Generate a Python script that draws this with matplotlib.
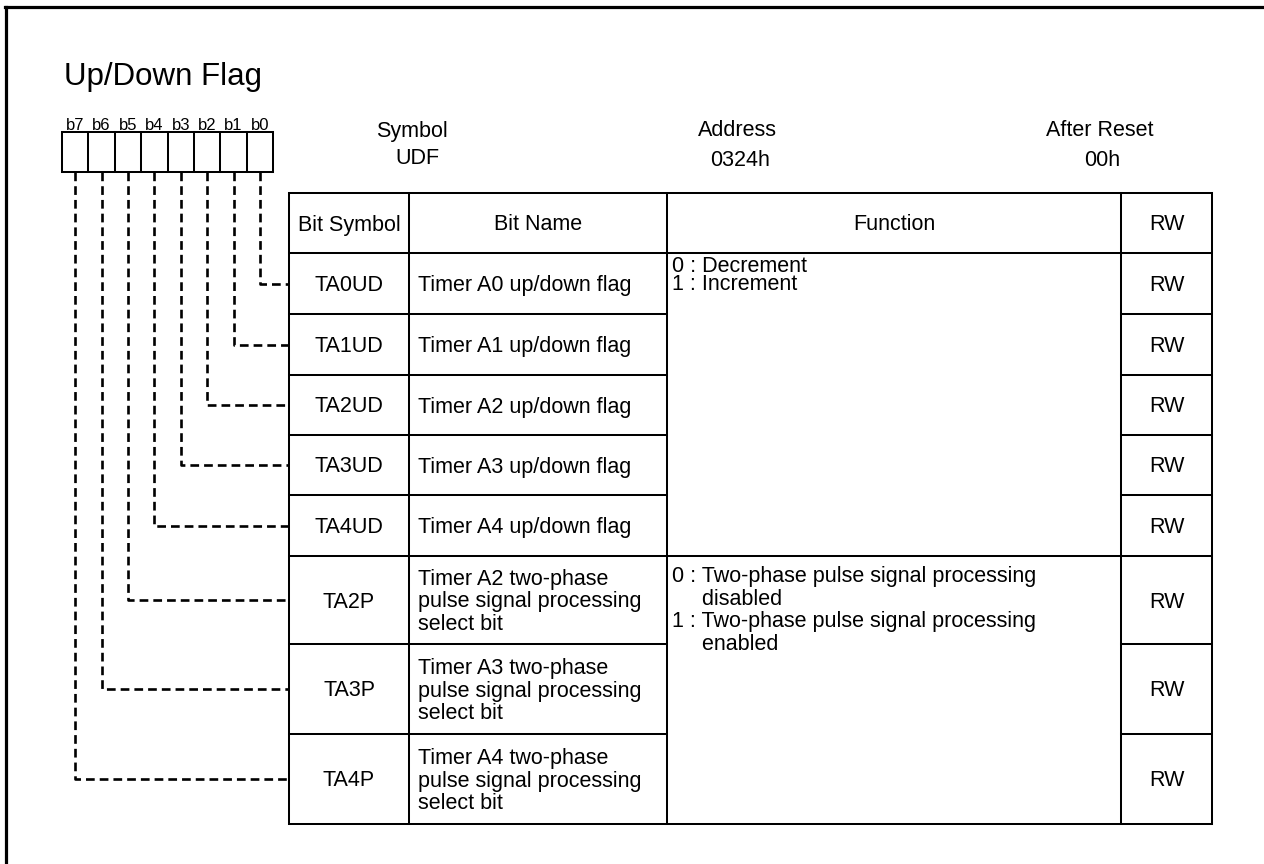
import matplotlib
matplotlib.use("Agg")
import matplotlib.pyplot as plt

plt.rcParams['font.family'] = ['Liberation Sans', 'DejaVu Sans']

# register data
title = 'Up/Down Flag'
bit_labels = ['b7', 'b6', 'b5', 'b4', 'b3', 'b2', 'b1', 'b0']
header_keys = ['Symbol', 'Address', 'After Reset']
header_vals = ['UDF', '0324h', '00h']
col_titles = ['Bit Symbol', 'Bit Name', 'Function', 'RW']
bit_symbols = ['TA0UD', 'TA1UD', 'TA2UD', 'TA3UD', 'TA4UD', 'TA2P', 'TA3P', 'TA4P']
bit_names = ['Timer A0 up/down flag', 'Timer A1 up/down flag', 'Timer A2 up/down flag',
             'Timer A3 up/down flag', 'Timer A4 up/down flag',
             'Timer A2 two-phase\npulse signal processing\nselect bit',
             'Timer A3 two-phase\npulse signal processing\nselect bit',
             'Timer A4 two-phase\npulse signal processing\nselect bit']
rw = ['RW'] * 8
# function text covers a group of rows: (first row, last row, text)
func_groups = [
    (0, 4, '0 : Decrement\n1 : Increment'),
    (5, 7, '0 : Two-phase pulse signal processing\n     disabled\n'
           '1 : Two-phase pulse signal processing\n     enabled'),
]

# layout (pixels)
W, H = 1264, 864
box_x0, box_w, box_top, box_bot = 62, 26.4, 132, 172
cols = [289, 409, 667, 1121, 1212]
tbl_top = 193
row_edges = [253, 314, 375, 435, 495, 556, 644, 734, 824]
lw = 1.45
fs = 15.5

fig = plt.figure(figsize=(W / 100, H / 100), dpi=100)
ax = fig.add_axes([0, 0, 1, 1])
ax.set_xlim(0, W)
ax.set_ylim(H, 0)
ax.axis('off')

def line(x, y, **kw):
    kw.setdefault('color', 'black')
    kw.setdefault('lw', lw)
    kw.setdefault('solid_capstyle', 'projecting')
    ax.plot(x, y, **kw)

# outer frame (top and left only)
line([5, W], [7, 7], lw=2.3)
line([6, 6], [7, H], lw=2.3)

ax.text(64, 85, title, fontsize=22.5, ha='left', va='baseline')

# bit boxes
for i, lab in enumerate(bit_labels):
    x0 = box_x0 + i * box_w
    ax.text(x0 + box_w / 2, 130, lab, fontsize=12, ha='center', va='baseline')
    line([x0, x0], [box_top, box_bot])
line([box_x0 + 8 * box_w] * 2, [box_top, box_bot])
line([box_x0, box_x0 + 8 * box_w], [box_top, box_top])
line([box_x0, box_x0 + 8 * box_w], [box_bot, box_bot])

# register header
for kx, vx, k, v, vy in zip([412, 737, 1100], [417, 740, 1102],
                            header_keys, header_vals, [163.5, 165.5, 165.5]):
    ax.text(kx, 136.5, k, fontsize=fs, ha='center', va='baseline')
    ax.text(vx, vy, v, fontsize=fs, ha='center', va='baseline')

# table grid
full = [tbl_top, row_edges[0], row_edges[5], row_edges[-1]]
for y in row_edges + [tbl_top]:
    if y in full:
        line([cols[0], cols[-1]], [y, y])
    else:
        line([cols[0], cols[2]], [y, y])
        line([cols[3], cols[4]], [y, y])
for x in cols:
    line([x, x], [tbl_top, row_edges[-1]])

# column titles
hy = (tbl_top + row_edges[0]) / 2 + 2
for i, t in enumerate(col_titles):
    ax.text((cols[i] + cols[i + 1]) / 2, hy, t, fontsize=fs, ha='center', va='center')

# rows
dash = (0, (3.3, 1.9))
for r in range(8):
    yc = (row_edges[r] + row_edges[r + 1]) / 2
    ax.text((cols[0] + cols[1]) / 2, yc + 2, bit_symbols[r], fontsize=fs, ha='center', va='center')
    ax.text(cols[1] + 9, yc + 2, bit_names[r], fontsize=fs, ha='left', va='center', linespacing=1.1)
    ax.text((cols[3] + cols[4]) / 2, yc + 2, rw[r], fontsize=fs, ha='center', va='center')
    # leader from bit box to row
    bx = box_x0 + (7 - r) * box_w + box_w / 2
    line([bx, bx, cols[0]], [box_bot, yc, yc], ls=dash, lw=1.9, solid_capstyle='butt')

# function descriptions (top-anchored inside merged cells)
for (r0, r1, txt), pad, sp in zip(func_groups, [3, 10], [0.84, 1.1]):
    ax.text(cols[2] + 5, row_edges[r0] + pad, txt, fontsize=fs, ha='left', va='top',
            linespacing=sp)

fig.savefig('out.png', dpi=100)
